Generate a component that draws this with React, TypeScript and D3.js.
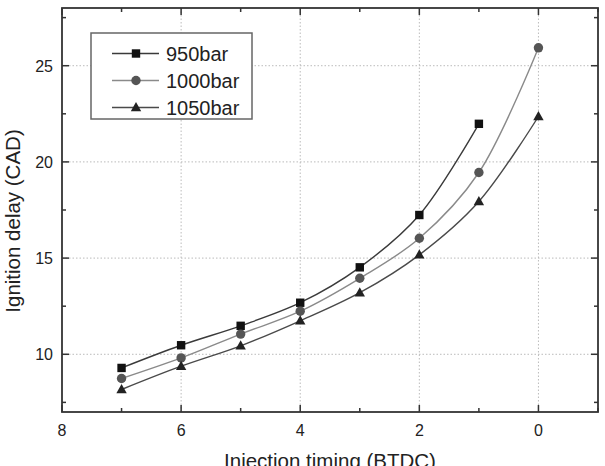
import React from "react";
import * as d3 from "d3";

// injection timing (BTDC)
const timing950 = [7, 6, 5, 4, 3, 2, 1];
const delay950 = [9.29, 10.47, 11.48, 12.68, 14.52, 17.24, 21.98];
const timing1000 = [7, 6, 5, 4, 3, 2, 1, 0];
const delay1000 = [8.74, 9.81, 11.05, 12.24, 13.95, 16.03, 19.45, 25.93];
const timing1050 = [7, 6, 5, 4, 3, 2, 1, 0];
const delay1050 = [8.17, 9.38, 10.44, 11.74, 13.2, 15.17, 17.94, 22.36];

const seriesNames = ["950bar", "1000bar", "1050bar"];
const xMajorTicks = [8, 6, 4, 2, 0];
const xMinorTicks = [7, 5, 3, 1, -1];
const yMajorTicks = [10, 15, 20, 25];
const yMinorTicks = [7.5, 12.5, 17.5, 22.5, 27.5];

const W = 605, H = 466;
const left = 62, right = 598, top = 8, bottom = 412;
const font = "'Liberation Sans', Arial, sans-serif";

const x = d3.scaleLinear().domain([8, -1]).range([left, right]);
const y = d3.scaleLinear().domain([7, 28]).range([bottom, top]);

const series = [
  { name: seriesNames[0], xs: timing950, ys: delay950, line: "#3a3a3a", fill: "#111", shape: "square" },
  { name: seriesNames[1], xs: timing1000, ys: delay1000, line: "#8a8a8a", fill: "#555", shape: "circle" },
  { name: seriesNames[2], xs: timing1050, ys: delay1050, line: "#4a4a4a", fill: "#222", shape: "triangle" },
];

const lineGen = d3.line<[number, number]>()
  .x(d => x(d[0]))
  .y(d => y(d[1]))
  .curve(d3.curveCatmullRom.alpha(0.5));

function Marker({ shape, cx, cy, fill }: { shape: string; cx: number; cy: number; fill: string }) {
  if (shape === "square") return <rect x={cx - 4.2} y={cy - 4.2} width={8.4} height={8.4} fill={fill} />;
  if (shape === "circle") return <circle cx={cx} cy={cy} r={4.7} fill={fill} />;
  return <path d={`M${cx},${cy - 5.5}L${cx + 5.2},${cy + 3.8}L${cx - 5.2},${cy + 3.8}Z`} fill={fill} />;
}

export default function App() {
  const axisColor = "#333";
  return (
    <svg width={W} height={H} style={{ position: "absolute", left: 0, top: 0, background: "#fff" }}>
      <rect width={W} height={H} fill="#fff" />
      {/* grid */}
      {xMajorTicks.filter(t => t !== 8).map(t => (
        <line key={"gx" + t} x1={x(t)} x2={x(t)} y1={top} y2={bottom} stroke="#bbb" strokeWidth={1} strokeDasharray="1.5,2" />
      ))}
      {yMajorTicks.map(t => (
        <line key={"gy" + t} x1={left} x2={right} y1={y(t)} y2={y(t)} stroke="#bbb" strokeWidth={1} strokeDasharray="1.5,2" />
      ))}

      {/* lines */}
      {series.map(s => (
        <path key={s.name} d={lineGen(s.xs.map((v, i) => [v, s.ys[i]]) as [number, number][]) || ""}
          fill="none" stroke={s.line} strokeWidth={1.4} />
      ))}
      {series.map(s => s.xs.map((v, i) => (
        <Marker key={s.name + i} shape={s.shape} cx={x(v)} cy={y(s.ys[i])} fill={s.fill} />
      )))}

      {/* frame */}
      <rect x={left} y={top} width={right - left} height={bottom - top} fill="none" stroke={axisColor} strokeWidth={1.8} />
      {xMajorTicks.concat(xMinorTicks).map(t => {
        const len = xMajorTicks.includes(t) ? 7 : 4;
        return (
          <g key={"tx" + t}>
            <line x1={x(t)} x2={x(t)} y1={bottom} y2={bottom - len} stroke={axisColor} strokeWidth={1.5} />
            <line x1={x(t)} x2={x(t)} y1={top} y2={top + len} stroke={axisColor} strokeWidth={1.5} />
          </g>
        );
      })}
      {yMajorTicks.concat(yMinorTicks).map(t => {
        const len = yMajorTicks.includes(t) ? 7 : 4;
        return (
          <g key={"ty" + t}>
            <line x1={left} x2={left + len} y1={y(t)} y2={y(t)} stroke={axisColor} strokeWidth={1.5} />
            <line x1={right} x2={right - len} y1={y(t)} y2={y(t)} stroke={axisColor} strokeWidth={1.5} />
          </g>
        );
      })}

      {/* tick labels */}
      {xMajorTicks.map(t => (
        <text key={"lx" + t} x={x(t)} y={436} textAnchor="middle" fontFamily={font} fontSize={16} fill="#222">{t}</text>
      ))}
      {yMajorTicks.map(t => (
        <text key={"ly" + t} x={53} y={y(t) + 6} textAnchor="end" fontFamily={font} fontSize={16} fill="#222">{t}</text>
      ))}

      {/* axis titles */}
      <text x={(left + right) / 2} y={468} textAnchor="middle" fontFamily={font} fontSize={20.5} fill="#222">Injection timing (BTDC)</text>
      <text transform={`translate(20,${(top + bottom) / 2 + 11}) rotate(-90)`} textAnchor="middle" fontFamily={font} fontSize={20.5} fill="#222">Ignition delay (CAD)</text>

      {/* legend */}
      <rect x={91} y={33} width={161} height={86} fill="#fff" stroke="#666" strokeWidth={1.5} />
      {series.map((s, i) => {
        const ly = 53.5 + i * 27;
        return (
          <g key={"leg" + s.name}>
            <line x1={112} x2={159} y1={ly} y2={ly} stroke={s.line} strokeWidth={1.4} />
            <Marker shape={s.shape} cx={136} cy={ly} fill={s.fill} />
            <text x={166} y={ly + 7.3} fontFamily={font} fontSize={20} fill="#222">{s.name}</text>
          </g>
        );
      })}
    </svg>
  );
}
